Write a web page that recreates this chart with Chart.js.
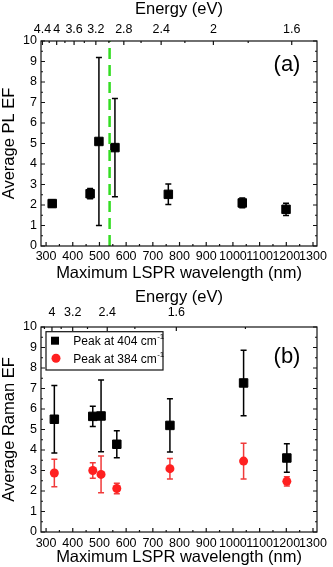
<!DOCTYPE html>
<html>
<head>
<meta charset="utf-8">
<script src="https://cdn.jsdelivr.net/npm/chart.js"></script>
<style>
  html, body { margin: 0; padding: 0; background: #fff; }
  canvas { display: block; }
</style>
</head>
<body>
<canvas id="chartA" width="333" height="283"></canvas>
<canvas id="chartB" width="333" height="284"></canvas>
<script>
/* panel (a) : PL */
const wavelengthA = [323, 465, 498, 558, 758, 1035, 1199];
const plEF = [2.07, 2.55, 5.1, 4.8, 2.52, 2.1, 1.79];
const plErr = [0.17, 0.25, 4.1, 2.4, 0.5, 0.24, 0.3];
const laserWavelength = 538;

/* panel (b) : Raman */
const wavelengthB = [331, 475, 506, 565, 764, 1040, 1202];
const raman404 = [5.5, 5.64, 5.66, 4.28, 5.2, 7.27, 3.61];
const raman404Err = [1.65, 0.49, 1.75, 0.66, 1.3, 1.6, 0.69];
const raman384 = [2.88, 3.0, 2.81, 2.12, 3.09, 3.46, 2.47];
const raman384Err = [0.67, 0.38, 0.9, 0.26, 0.5, 0.87, 0.23];
const ramanPeaks = [404, 384];

/* ticks */
const wavelengthTicks = [300, 400, 500, 600, 700, 800, 900, 1000, 1100, 1200, 1300];
const efTicks = [0, 1, 2, 3, 4, 5, 6, 7, 8, 9, 10];
const energyTicksA = [4.4, 4, 3.6, 3.2, 2.8, 2.4, 2, 1.6];
const energyMinorA = [4.2, 3.8, 3.4, 3.0, 2.6, 2.2, 1.8];
const energyTicksB = [4, 3.2, 2.4, 1.6];
const energyMinorB = [4.4, 3.6, 2.8, 2.0, 1.2];

Chart.defaults.font.family = '"Liberation Sans", Arial, sans-serif';
Chart.defaults.color = '#000';

const toPoints = (xs, ys) => xs.map((x, i) => ({ x: x, y: ys[i] }));

const framePlugin = {
  id: 'frame',
  beforeDatasetsDraw(chart) {
    const ctx = chart.ctx, ys = chart.scales.y;
    chart.data.datasets.forEach((ds, i) => {
      if (!ds.errors) return;
      const meta = chart.getDatasetMeta(i);
      ctx.save();
      ctx.strokeStyle = ds.errorColor;
      ctx.lineWidth = 1.5;
      ctx.beginPath();
      meta.data.forEach((pt, j) => {
        const v = ds.data[j].y, e = ds.errors[j];
        const top = ys.getPixelForValue(v + e), bot = ys.getPixelForValue(v - e);
        ctx.moveTo(pt.x, top); ctx.lineTo(pt.x, bot);
        ctx.moveTo(pt.x - 3, top); ctx.lineTo(pt.x + 3, top);
        ctx.moveTo(pt.x - 3, bot); ctx.lineTo(pt.x + 3, bot);
      });
      ctx.stroke();
      ctx.restore();
    });
  },
  afterDraw(chart, args, opts) {
    const ctx = chart.ctx, a = chart.chartArea, s = chart.scales;
    ctx.save();
    ctx.strokeStyle = '#111';
    ctx.lineWidth = 1.2;
    ctx.strokeRect(a.left, a.top, a.right - a.left, a.bottom - a.top);

    // inward tick marks
    ctx.beginPath();
    const vmark = (x, y, len) => { ctx.moveTo(x, y); ctx.lineTo(x, y + len); };
    const hmark = (x, y, len) => { ctx.moveTo(x, y); ctx.lineTo(x + len, y); };
    wavelengthTicks.forEach(v => {
      vmark(s.x.getPixelForValue(v), a.bottom, -4);
      if (v + 50 < s.x.max) vmark(s.x.getPixelForValue(v + 50), a.bottom, -2);
    });
    efTicks.forEach(v => {
      const y = s.y.getPixelForValue(v);
      hmark(a.left, y, 4); hmark(a.right, y, -4);
      if (v < 10) {
        const y2 = s.y.getPixelForValue(v + 0.5);
        hmark(a.left, y2, 2); hmark(a.right, y2, -2);
      }
    });
    opts.energy.forEach(e => vmark(s.xTop.getPixelForValue(1240 / e), a.top, 4));
    opts.energyMinor.forEach(e => {
      const x = s.xTop.getPixelForValue(1240 / e);
      if (x < a.right) vmark(x, a.top, 2);
    });
    ctx.stroke();

    // panel label
    ctx.fillStyle = '#000';
    ctx.font = '22px "Liberation Sans", Arial, sans-serif';
    ctx.textAlign = 'center';
    ctx.textBaseline = 'middle';
    ctx.fillText(opts.label, a.right - 30, a.top + opts.labelDy);

    // legend box
    if (opts.legend) {
      const lx = a.left + 5, ly = a.top + 4.7, lw = 117, lh = 38.3;
      ctx.lineWidth = 1.2;
      ctx.strokeRect(lx, ly, lw, lh);
      chart.data.datasets.forEach((ds, i) => {
        const cy = ly + 9 + i * 17.6;
        ctx.fillStyle = ds.backgroundColor;
        ctx.beginPath();
        if (ds.pointStyle === 'rect') ctx.rect(lx + 5, cy - 4, 8, 8);
        else ctx.arc(lx + 10, cy, 4.5, 0, Math.PI * 2);
        ctx.fill();
        ctx.fillStyle = '#000';
        ctx.textAlign = 'left';
        ctx.font = '12px "Liberation Sans", Arial, sans-serif';
        const base = 'Peak at ' + ramanPeaks[i] + ' cm';
        ctx.fillText(base, lx + 27.3, cy + 1);
        const w = ctx.measureText(base).width;
        ctx.font = '8px "Liberation Sans", Arial, sans-serif';
        ctx.fillText('-1', lx + 27.8 + w, cy - 4);
      });
    }
    ctx.restore();
  }
};

function makeChart(id, cfg) {
  return new Chart(document.getElementById(id), {
    type: 'scatter',
    data: { datasets: cfg.datasets },
    options: {
      responsive: false,
      animation: false,
      layout: { padding: { left: 0, right: 16, top: 0, bottom: 0 } },
      plugins: {
        legend: { display: false },
        tooltip: { enabled: false },
        frame: { label: cfg.label, labelDy: cfg.labelDy, legend: cfg.legend, energy: cfg.energy, energyMinor: cfg.energyMinor }
      },
      scales: {
        x: {
          type: 'linear', position: 'bottom', min: 281, max: 1315,
          afterBuildTicks: sc => { sc.ticks = wavelengthTicks.map(v => ({ value: v })); },
          afterFit: sc => { sc.height = cfg.bottomH; },
          grid: { display: false, drawTicks: false },
          border: { display: false },
          ticks: { padding: cfg.bottomPad, autoSkip: false, maxRotation: 0, font: { size: 12.5 },
                   callback: v => String(v) },
          title: { display: true, text: 'Maximum LSPR wavelength (nm)', font: { size: 16.5 }, padding: { top: 0, bottom: cfg.bottomTitlePad } }
        },
        xTop: {
          type: 'linear', axis: 'x', position: 'top', min: cfg.topMin, max: cfg.topMax,
          afterBuildTicks: sc => { sc.ticks = cfg.energy.map(e => ({ value: 1240 / e })); },
          afterFit: sc => { sc.height = cfg.topH; },
          grid: { display: false, drawTicks: false },
          border: { display: false },
          ticks: { padding: cfg.topPad, autoSkip: false, maxRotation: 0, font: { size: 12.5 },
                   callback: (v, i) => String(cfg.energy[i]) },
          title: { display: true, text: 'Energy (eV)', font: { size: 16.5 }, padding: { top: cfg.topTitlePad, bottom: 0 } }
        },
        y: {
          type: 'linear', position: 'left', min: 0, max: 10,
          afterBuildTicks: sc => { sc.ticks = efTicks.map(v => ({ value: v })); },
          afterFit: sc => { sc.width = 41; },
          grid: { display: false, drawTicks: false },
          border: { display: false },
          ticks: { padding: 4, font: { size: 12.5 }, callback: v => String(v) },
          title: { display: true, text: cfg.yTitle, font: { size: 16.5 }, padding: { top: 0, bottom: 0 } }
        }
      }
    },
    plugins: [framePlugin]
  });
}

makeChart('chartA', {
  label: '(a)', labelDy: 24, legend: false,
  yTitle: 'Average PL EF',
  energy: energyTicksA, energyMinor: energyMinorA,
  topMin: 279, topMax: 825,
  topH: 41, topPad: 4, topTitlePad: 0,
  bottomH: 37, bottomPad: 3, bottomTitlePad: 0,
  datasets: [
    {
      label: 'Laser', data: [{ x: laserWavelength, y: 0 }, { x: laserWavelength, y: 10 }],
      showLine: true, borderColor: '#33dd22', borderWidth: 2.5, borderDash: [11, 6], pointRadius: 0
    },
    {
      label: 'PL', data: toPoints(wavelengthA, plEF), errors: plErr, errorColor: '#000',
      pointStyle: 'rect', pointRadius: 6, borderWidth: 1, backgroundColor: '#000', borderColor: '#000'
    }
  ]
});

makeChart('chartB', {
  label: '(b)', labelDy: 30, legend: true,
  yTitle: 'Average Raman EF',
  energy: energyTicksB, energyMinor: energyMinorB,
  topMin: 269, topMax: 1301,
  topH: 44, topPad: 7, topTitlePad: 5,
  bottomH: 35, bottomPad: 4, bottomTitlePad: 0,
  datasets: [
    {
      label: 'Peak at 404 cm-1', data: toPoints(wavelengthB, raman404), errors: raman404Err, errorColor: '#000',
      pointStyle: 'rect', pointRadius: 6, borderWidth: 1, backgroundColor: '#000', borderColor: '#000'
    },
    {
      label: 'Peak at 384 cm-1', data: toPoints(wavelengthB, raman384), errors: raman384Err, errorColor: '#f03a3a',
      pointStyle: 'circle', pointRadius: 4.5, borderWidth: 0, backgroundColor: '#ff2020', borderColor: '#ff2020'
    }
  ]
});
</script>
</body>
</html>
